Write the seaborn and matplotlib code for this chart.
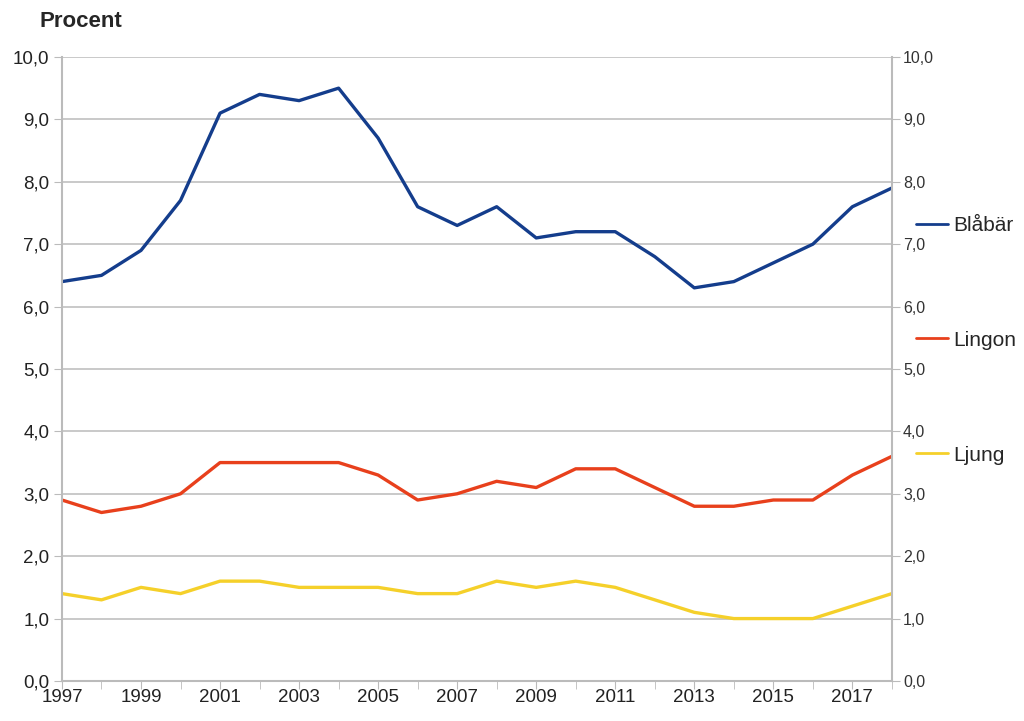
import pandas as pd
import numpy as np
import matplotlib
matplotlib.use('Agg')
import matplotlib.pyplot as plt
import seaborn as sns
from matplotlib.ticker import FuncFormatter, MultipleLocator

years = list(range(1997, 2019))
blabar = [6.4, 6.5, 6.9, 7.7, 9.1, 9.4, 9.3, 9.5, 8.7, 7.6, 7.3, 7.6, 7.1, 7.2, 7.2, 6.8, 6.3, 6.4, 6.7, 7.0, 7.6, 7.9]
lingon = [2.9, 2.7, 2.8, 3.0, 3.5, 3.5, 3.5, 3.5, 3.3, 2.9, 3.0, 3.2, 3.1, 3.4, 3.4, 3.1, 2.8, 2.8, 2.9, 2.9, 3.3, 3.6]
ljung = [1.4, 1.3, 1.5, 1.4, 1.6, 1.6, 1.5, 1.5, 1.5, 1.4, 1.4, 1.6, 1.5, 1.6, 1.5, 1.3, 1.1, 1.0, 1.0, 1.0, 1.2, 1.4]
serier = ['Blåbär', 'Lingon', 'Ljung']
farger = ['#143D8C', '#E8401C', '#F5D02A']

df = pd.DataFrame({'År': years * 3,
                   'Procent': blabar + lingon + ljung,
                   'Art': [s for s in serier for _ in years]})

sns.set_style('white')
plt.rcParams['font.family'] = ['Liberation Sans', 'DejaVu Sans']

fig = plt.figure(figsize=(10.24, 7.21), dpi=100)
ax = fig.add_axes([0.0605, 0.0555, 0.8105, 0.8655])

sns.lineplot(data=df, x='År', y='Procent', hue='Art', hue_order=serier,
             palette=farger, linewidth=2.4, ax=ax)

grid_farg = '#BBBBBB'
ax.set_xlim(1997, 2018)
ax.set_ylim(0, 10)
ax.yaxis.set_major_locator(MultipleLocator(1))
ax.xaxis.set_major_locator(MultipleLocator(2, offset=1))
ax.xaxis.set_minor_locator(MultipleLocator(1))
komma = FuncFormatter(lambda v, p: f'{v:.1f}'.replace('.', ','))
ax.yaxis.set_major_formatter(komma)
ax.grid(axis='y', color=grid_farg, linewidth=1.1)
ax.set_axisbelow(True)
ax.set_xlabel('')
ax.set_ylabel('')
for s in ['left', 'right', 'bottom']:
    ax.spines[s].set_color(grid_farg)
    ax.spines[s].set_linewidth(1.5)
ax.spines['top'].set_visible(False)
ax.tick_params(axis='x', which='both', direction='out', length=6, color=grid_farg,
               labelsize=13.5, pad=0, bottom=True, labelcolor='#222222')
ax.tick_params(axis='y', direction='out', length=6, color=grid_farg,
               labelsize=13.5, pad=3, left=True, labelcolor='#222222')

ax2 = ax.twinx()
ax2.set_ylim(0, 10)
ax2.yaxis.set_major_locator(MultipleLocator(1))
ax2.yaxis.set_major_formatter(komma)
ax2.tick_params(axis='y', direction='out', length=6, color=grid_farg,
                labelsize=11.5, pad=2, right=True, labelcolor='#333333')
for s in ax2.spines.values():
    s.set_visible(False)

ax.legend(title=None, loc='center left', bbox_to_anchor=(1.029, 0.546),
          frameon=False, fontsize=15, labelspacing=4.6, handlelength=1.55,
          handletextpad=0.25, borderpad=0, borderaxespad=0)
for l in ax.get_legend().get_lines():
    l.set_linewidth(2)

fig.text(0.039, 0.97, 'Procent', fontsize=16, fontweight='bold', va='center', ha='left')

fig.savefig('out.png', dpi=100)
